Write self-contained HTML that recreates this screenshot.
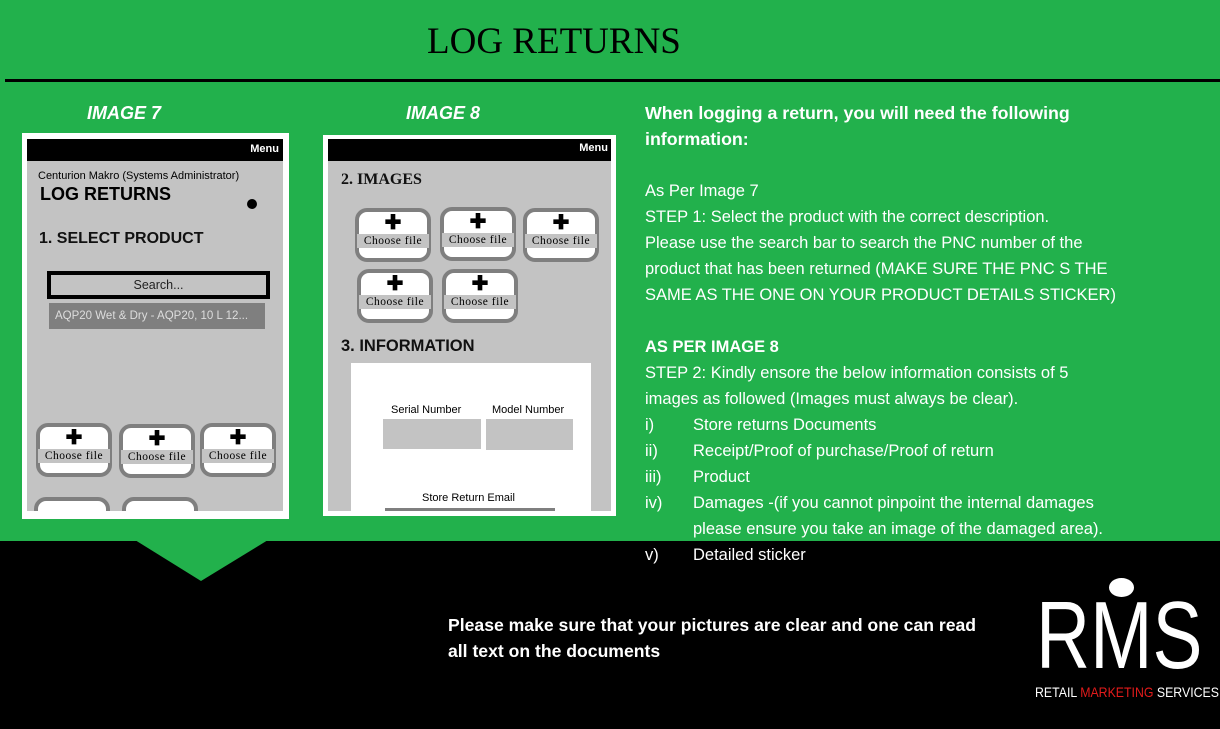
<!DOCTYPE html>
<html><head><meta charset="utf-8"><style>
*{margin:0;padding:0;box-sizing:border-box}
body{width:1220px;height:729px;background:#000;position:relative;overflow:hidden;font-family:"Liberation Sans",sans-serif}
.a{position:absolute}
.g{background:#22b14c}
.t{color:#fff;font-size:16.5px;white-space:nowrap;line-height:26px}
.fb{position:absolute;width:76px;height:54px;border:4px solid #7f7f7f;border-radius:12px;background:#fff}
.fb .p{position:absolute;left:0;right:0;top:2px;text-align:center;font-size:20px;font-weight:bold;line-height:18px;color:#000}
.fb .c{position:absolute;left:-2px;right:-2px;top:22px;height:14px;background:#c3c3c3;font-family:"Liberation Serif",serif;font-size:11.5px;letter-spacing:0.5px;text-align:center;line-height:14px;color:#000}
.sm{font-size:12px;color:#000;white-space:nowrap}
</style></head><body>
<div class="a g" style="left:0;top:0;width:1220px;height:541px"></div>
<div class="a" style="left:5px;top:79px;width:1215px;height:3px;background:#000"></div>
<div class="a" style="left:427px;top:20px;font-family:'Liberation Serif',serif;font-size:37px;color:#000;white-space:nowrap">LOG RETURNS</div>
<svg class="a" style="left:0;top:540px" width="300" height="45"><polygon points="135,0 268,0 201,41" fill="#22b14c"/></svg>

<div class="a" style="left:87px;top:103px;color:#fff;font-weight:bold;font-style:italic;font-size:18px">IMAGE 7</div>
<div class="a" style="left:406px;top:103px;color:#fff;font-weight:bold;font-style:italic;font-size:18px">IMAGE 8</div>

<!-- Image 7 -->
<div class="a" style="left:22px;top:133px;width:267px;height:386px;background:#fff"></div>
<div class="a" style="left:27px;top:139px;width:256px;height:372px;background:#c3c3c3;overflow:hidden">
  <div class="a" style="left:0;top:0;width:256px;height:22px;background:#000"></div>
  <div class="a" style="right:4px;top:4px;color:#fff;font-size:11px;font-weight:bold">Menu</div>
  <div class="a sm" style="left:11px;top:31px;font-size:11px">Centurion Makro (Systems Administrator)</div>
  <div class="a" style="left:13px;top:45px;font-size:18px;font-weight:bold;color:#000">LOG RETURNS</div>
  <div class="a" style="left:220px;top:60px;width:10px;height:10px;border-radius:50%;background:#000"></div>
  <div class="a" style="left:12px;top:91px;font-size:16px;font-weight:bold;color:#111">1. SELECT PRODUCT</div>
  <div class="a" style="left:20px;top:132px;width:223px;height:28px;border:4px solid #000;background:#c3c3c3;text-align:center;font-size:12.5px;line-height:20px;color:#222">Search...</div>
  <div class="a" style="left:22px;top:164px;width:216px;height:26px;background:#7f7f7f;font-size:11.5px;color:#ddd;line-height:26px;padding-left:6px;white-space:nowrap">AQP20 Wet &amp; Dry - AQP20, 10 L 12...</div>
  <div class="fb" style="left:9px;top:284px"><div class="p">✚</div><div class="c">Choose file</div></div>
  <div class="fb" style="left:92px;top:285px"><div class="p">✚</div><div class="c">Choose file</div></div>
  <div class="fb" style="left:173px;top:284px"><div class="p">✚</div><div class="c">Choose file</div></div>
  <div class="fb" style="left:7px;top:358px"></div>
  <div class="fb" style="left:95px;top:358px"></div>
</div>

<!-- Image 8 -->
<div class="a" style="left:323px;top:135px;width:293px;height:381px;background:#fff"></div>
<div class="a" style="left:328px;top:139px;width:283px;height:372px;background:#c3c3c3;overflow:hidden">
  <div class="a" style="left:0;top:0;width:283px;height:22px;background:#000"></div>
  <div class="a" style="right:3px;top:3px;color:#fff;font-size:11px;font-weight:bold">Menu</div>
  <div class="a" style="left:13px;top:32px;font-family:'Liberation Serif',serif;font-size:16px;font-weight:bold;color:#111">2. IMAGES</div>
  <div class="fb" style="left:27px;top:69px"><div class="p">✚</div><div class="c">Choose file</div></div>
  <div class="fb" style="left:112px;top:68px"><div class="p">✚</div><div class="c">Choose file</div></div>
  <div class="fb" style="left:195px;top:69px"><div class="p">✚</div><div class="c">Choose file</div></div>
  <div class="fb" style="left:29px;top:130px"><div class="p">✚</div><div class="c">Choose file</div></div>
  <div class="fb" style="left:114px;top:130px"><div class="p">✚</div><div class="c">Choose file</div></div>
  <div class="a" style="left:13px;top:198px;font-size:16.5px;font-weight:bold;color:#111">3. INFORMATION</div>
  <div class="a" style="left:23px;top:224px;width:240px;height:160px;background:#fff"></div>
  <div class="a sm" style="left:63px;top:265px;font-size:11px">Serial Number</div>
  <div class="a sm" style="left:164px;top:265px;font-size:11px">Model Number</div>
  <div class="a" style="left:55px;top:280px;width:98px;height:30px;background:#c3c3c3"></div>
  <div class="a" style="left:158px;top:280px;width:87px;height:31px;background:#c3c3c3"></div>
  <div class="a sm" style="left:94px;top:353px;font-size:11px">Store Return Email</div>
  <div class="a" style="left:57px;top:369px;width:170px;height:10px;background:#7f7f7f"></div>
</div>

<!-- Right text -->
<div class="a t" style="left:645px;top:100px;font-weight:bold;font-size:17.8px">When logging a return, you will need the following<br>information:</div>
<div class="a t" style="left:645px;top:178px">As Per Image 7<br>STEP 1: Select the product with the correct description.<br>Please use the search bar to search the PNC number of the<br>product that has been returned (MAKE SURE THE PNC S THE<br>SAME AS THE ONE ON YOUR PRODUCT DETAILS STICKER)</div>
<div class="a t" style="left:645px;top:334px;font-weight:bold">AS PER IMAGE 8</div>
<div class="a t" style="left:645px;top:360px">STEP 2: Kindly ensore the below information consists of 5<br>images as followed (Images must always be clear).</div>
<div class="a t" style="left:645px;top:412px">i)<br>ii)<br>iii)<br>iv)<br><br>v)</div>
<div class="a t" style="left:693px;top:412px">Store returns Documents<br>Receipt/Proof of purchase/Proof of return<br>Product<br>Damages -(if you cannot pinpoint the internal damages<br>please ensure you take an image of the damaged area).<br>Detailed sticker</div>

<div class="a t" style="left:448px;top:612px;font-weight:bold;font-size:17.6px">Please make sure that your pictures are clear and one can read<br>all text on the documents</div>

<!-- RMS logo -->
<div class="a" style="left:1109px;top:578px;width:25px;height:19px;border-radius:50%;background:#fff"></div>
<div class="a" style="left:1036px;top:588px;color:#fff;font-size:96px;line-height:96px;transform:scaleX(0.78);transform-origin:left;white-space:nowrap">RMS</div>
<div class="a" style="left:1035px;top:684px;font-size:14px;color:#fff;white-space:nowrap;transform:scaleX(0.88);transform-origin:left">RETAIL <span style="color:#e31b1b">MARKETING</span> SERVICES</div>
</body></html>
